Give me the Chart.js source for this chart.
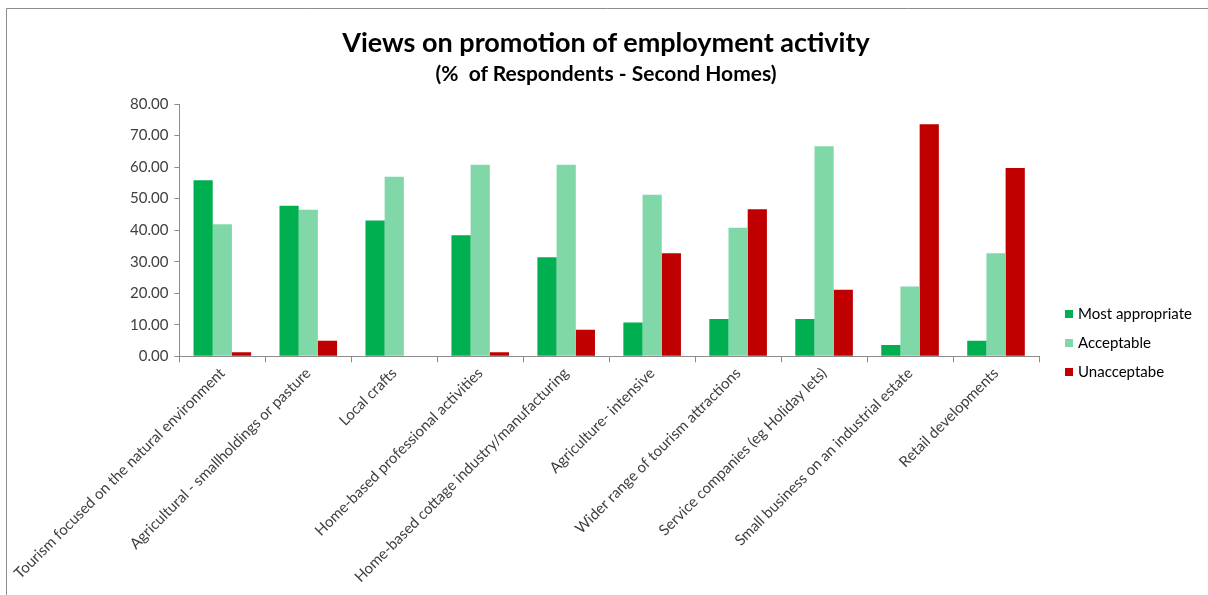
<!DOCTYPE html>
<html>
<head>
<meta charset="utf-8">
<script src="https://cdn.jsdelivr.net/npm/chart.js@4"></script>
<style>
  body { margin: 0; background: #fff; }
  #wrap { position: absolute; left: 0; top: 0; width: 1208px; height: 595px; }
  .ttl { position: absolute; left: 0; width: 1212px; text-align: center; font-family: Lato, sans-serif; font-weight: bold; color: #000; white-space: nowrap; }
  #title { top: 25px; font-size: 27px; line-height: 34px; }
  #subtitle { top: 60px; font-size: 21px; line-height: 26px; }
  #legend { position: absolute; left: 1065px; top: 304px; font-family: Lato, sans-serif; font-size: 15px; color: #000; }
  #legend div { height: 29px; line-height: 18px; white-space: nowrap; }
  #legend span.box { display: inline-block; width: 8px; height: 8px; margin-right: 5px; vertical-align: 1px; }
</style>
</head>
<body>
<div id="wrap"><canvas id="chart" width="1208" height="595"></canvas></div>
<div id="title" class="ttl">Views on promotion of employment activity</div>
<div id="subtitle" class="ttl">(%&nbsp; of Respondents - Second Homes)</div>
<div id="legend"></div>
<script>
const categories = [
  "Tourism focused on the natural environment",
  "Agricultural - smallholdings or pasture",
  "Local crafts",
  "Home-based professional activities",
  "Home-based cottage industry/manufacturing",
  "Agriculture- intensive",
  "Wider range of tourism attractions",
  "Service companies (eg Holiday lets)",
  "Small business on an industrial estate",
  "Retail developments"
];
const mostAppropriate = [55.8, 47.7, 43.1, 38.4, 31.4, 10.7, 11.8, 11.8, 3.6, 4.9];
const acceptable = [41.9, 46.5, 56.9, 60.7, 60.7, 51.2, 40.8, 66.6, 22.1, 32.7];
const unacceptable = [1.3, 4.9, 0, 1.3, 8.4, 32.7, 46.6, 21.1, 73.6, 59.7];
const seriesNames = ["Most appropriate", "Acceptable", "Unacceptabe"];
const seriesColors = ["#00b050", "#80d8a8", "#c00000"];
const yTicks = [0, 10, 20, 30, 40, 50, 60, 70, 80];

const textColor = "#404040";
const axisColor = "#8c8c8c";

// frame lines of the chart area (top and left edges visible)
const framePlugin = {
  id: "frame",
  beforeDraw(chart) {
    const ctx = chart.ctx;
    ctx.save();
    ctx.fillStyle = "#fff";
    ctx.fillRect(0, 0, chart.width, chart.height);
    ctx.strokeStyle = "#8c8c8c";
    ctx.lineWidth = 1;
    ctx.beginPath();
    ctx.moveTo(6.5, chart.height);
    ctx.lineTo(6.5, 8.5);
    ctx.lineTo(chart.width, 8.5);
    ctx.stroke();
    ctx.restore();
  }
};

// legend as plain html, placed like the original
const legend = document.getElementById("legend");
seriesNames.forEach((name, i) => {
  const row = document.createElement("div");
  row.innerHTML = `<span class="box" style="background:${seriesColors[i]}"></span>${name}`;
  legend.appendChild(row);
});

const context = document.getElementById("chart").getContext("2d");
new Chart(context, {
  type: "bar",
  data: {
    labels: categories,
    datasets: [
      { label: seriesNames[0], data: mostAppropriate, backgroundColor: seriesColors[0] },
      { label: seriesNames[1], data: acceptable, backgroundColor: seriesColors[1] },
      { label: seriesNames[2], data: unacceptable, backgroundColor: seriesColors[2] }
    ]
  },
  options: {
    responsive: false,
    animation: false,
    devicePixelRatio: 1,
    categoryPercentage: 0.67,
    barPercentage: 1,
    layout: { padding: { top: 104, left: 124, right: 169, bottom: 7 } },
    plugins: {
      legend: { display: false },
      tooltip: { enabled: false }
    },
    scales: {
      x: {
        // long first label may hang out to the left, like the original
        afterFit(scale) {
          scale.paddingLeft = 0;
        },
        grid: {
          display: true,
          drawOnChartArea: false,
          offset: true,
          tickLength: 6,
          color: axisColor
        },
        border: { color: axisColor, width: 1 },
        ticks: {
          autoSkip: false,
          minRotation: 45,
          maxRotation: 45,
          padding: 2,
          color: textColor,
          font: { family: "Lato", size: 15 }
        }
      },
      y: {
        min: 0,
        max: 80,
        afterBuildTicks(scale) {
          scale.ticks = yTicks.map((v) => ({ value: v }));
        },
        grid: {
          display: true,
          drawOnChartArea: false,
          tickLength: 5,
          color: axisColor
        },
        border: { color: axisColor, width: 1 },
        ticks: {
          color: textColor,
          padding: 6,
          font: { family: "Lato", size: 15 },
          callback: (v) => Number(v).toFixed(2)
        }
      }
    }
  },
  plugins: [framePlugin]
});
</script>
</body>
</html>
